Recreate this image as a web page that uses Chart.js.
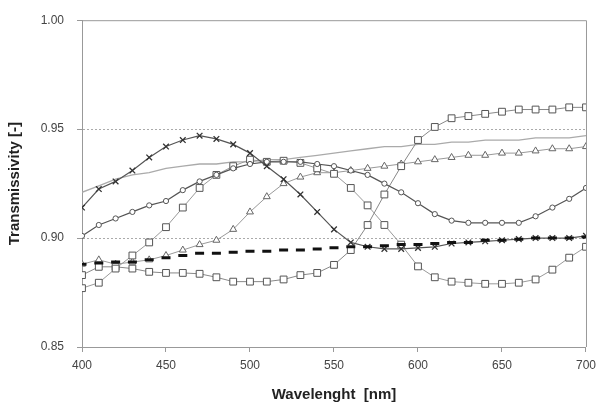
<!DOCTYPE html>
<html>
<head>
<meta charset="utf-8">
<script src="https://cdn.jsdelivr.net/npm/chart.js@4"></script>
<style>
html,body{margin:0;padding:0;background:#fff;}
#wrap{width:602px;height:409px;}
</style>
</head>
<body>
<div id="wrap"><canvas id="c" width="602" height="409"></canvas></div>
<script>
const wavelength = [400,410,420,430,440,450,460,470,480,490,500,510,520,530,540,550,560,570,580,590,600,610,620,630,640,650,660,670,680,690,700];

const crossSeries = [0.914,0.9225,0.926,0.931,0.937,0.942,0.945,0.947,0.9455,0.943,0.939,0.933,0.927,0.920,0.912,0.904,0.898,0.896,0.895,0.895,0.8955,0.896,0.8975,0.898,0.8985,0.899,0.8995,0.900,0.900,0.900,0.901];
const circleSeries = [0.901,0.906,0.909,0.912,0.915,0.917,0.922,0.926,0.929,0.932,0.934,0.935,0.935,0.935,0.934,0.933,0.931,0.929,0.925,0.921,0.916,0.911,0.908,0.907,0.907,0.907,0.907,0.910,0.914,0.918,0.923];
const squareSeriesA = [0.877,0.8795,0.886,0.892,0.898,0.905,0.914,0.923,0.929,0.933,0.936,0.935,0.9355,0.9345,0.932,0.9295,0.923,0.915,0.906,0.897,0.887,0.882,0.880,0.8795,0.879,0.879,0.8795,0.881,0.8855,0.891,0.896];
const squareSeriesB = [0.883,0.8868,0.8868,0.886,0.8845,0.884,0.884,0.8836,0.882,0.880,0.880,0.880,0.881,0.883,0.884,0.8877,0.8945,0.906,0.920,0.933,0.945,0.951,0.955,0.956,0.957,0.958,0.959,0.959,0.959,0.960,0.960];
const triangleSeries = [0.888,0.890,0.888,0.889,0.890,0.892,0.8945,0.897,0.899,0.904,0.912,0.919,0.925,0.928,0.930,0.930,0.931,0.932,0.933,0.934,0.935,0.936,0.937,0.938,0.938,0.939,0.939,0.940,0.941,0.941,0.942];
const plainSeries = [0.921,0.924,0.927,0.929,0.930,0.932,0.933,0.934,0.934,0.935,0.935,0.936,0.936,0.937,0.938,0.939,0.940,0.941,0.942,0.942,0.943,0.943,0.944,0.944,0.945,0.945,0.945,0.946,0.946,0.946,0.947];
const dashSeries = [0.888,0.8885,0.889,0.889,0.890,0.891,0.892,0.893,0.893,0.8935,0.894,0.894,0.8945,0.8945,0.895,0.8955,0.896,0.896,0.8965,0.897,0.897,0.8975,0.898,0.898,0.899,0.899,0.8995,0.900,0.900,0.900,0.9005];

const xTicks = [400,450,500,550,600,650,700];
const yTicks = [0.85,0.90,0.95,1.00];

function pts(arr){ return wavelength.map((w,i)=>({x:w,y:arr[i]})); }

const frame = {
  id:'frame',
  afterDraw(chart){
    const {ctx, chartArea:a} = chart;
    ctx.save();
    ctx.strokeStyle='#999';
    ctx.lineWidth=1;
    ctx.beginPath();
    ctx.moveTo(a.left, a.top+0.5);
    ctx.lineTo(a.right+0.5, a.top+0.5);
    ctx.lineTo(a.right+0.5, a.bottom);
    ctx.stroke();
    ctx.restore();
  }
};

new Chart(document.getElementById('c'), {
  type:'line',
  data:{
    datasets:[
      {label:'dash', data:pts(dashSeries), showLine:false, pointStyle:'line', pointRadius:4.5, pointBorderWidth:3, pointBorderColor:'#111', pointBackgroundColor:'#111'},
      {label:'cross', data:pts(crossSeries), borderColor:'#555', borderWidth:1.2, pointStyle:'crossRot', pointRadius:4, pointBorderWidth:1.3, pointBorderColor:'#333', pointBackgroundColor:'#333'},
      {label:'circle', data:pts(circleSeries), borderColor:'#555', borderWidth:1.2, pointStyle:'circle', pointRadius:2.6, pointBorderWidth:1, pointBorderColor:'#555', pointBackgroundColor:'#fff'},
      {label:'squareA', data:pts(squareSeriesA), borderColor:'#999', borderWidth:1, pointStyle:'rect', pointRadius:4.8, pointBorderWidth:1, pointBorderColor:'#555', pointBackgroundColor:'#fff'},
      {label:'squareB', data:pts(squareSeriesB), borderColor:'#888', borderWidth:1, pointStyle:'rect', pointRadius:4.8, pointBorderWidth:1, pointBorderColor:'#555', pointBackgroundColor:'#fff'},
      {label:'triangle', data:pts(triangleSeries), borderColor:'#999', borderWidth:1, pointStyle:'triangle', pointRadius:4, pointBorderWidth:1, pointBorderColor:'#666', pointBackgroundColor:'#fff'},
      {label:'plain', data:pts(plainSeries), borderColor:'#aaa', borderWidth:1.3, pointRadius:0}
    ]
  },
  options:{
    responsive:false,
    animation:false,
    events:[],
    layout:{padding:{top:18,right:15,left:0,bottom:0}},
    plugins:{legend:{display:false}, tooltip:{enabled:false}},
    elements:{line:{tension:0}},
    scales:{
      x:{
        type:'linear', min:400, max:700,
        afterBuildTicks(s){ s.ticks = xTicks.map(v=>({value:v})); },
        afterFit(s){ s.height = 62; },
        grid:{color:'rgba(0,0,0,0)', drawOnChartArea:false, tickLength:5, tickColor:'#999', tickWidth:1},
        border:{color:'#999', width:1},
        ticks:{color:'#444', padding:6, font:{family:'Liberation Sans, Arial', size:12}, maxRotation:0, callback:v=>String(v)},
        title:{display:true, text:'Wavelenght  [nm]', color:'#222', font:{family:'Liberation Sans, Arial', size:15, weight:'bold'}, padding:{top:0,bottom:5}}
      },
      y:{
        type:'linear', min:0.85, max:1.00,
        afterBuildTicks(s){ s.ticks = yTicks.map(v=>({value:v})); },
        afterFit(s){ s.width = 82; },
        grid:{color:(c)=> (c.tick && (Math.abs(c.tick.value-0.90)<1e-6 || Math.abs(c.tick.value-0.95)<1e-6)) ? '#aaa' : 'rgba(0,0,0,0)', tickLength:5, tickColor:'#999', tickWidth:1},
        border:{color:'#999', width:1, dash:[2,2]},
        ticks:{color:'#444', padding:13, font:{family:'Liberation Sans, Arial', size:12}, callback:v=>Number(v).toFixed(2)},
        title:{display:true, text:'Transmissivity [-]', color:'#222', font:{family:'Liberation Sans, Arial', size:15, weight:'bold'}, padding:{top:6,bottom:0}}
      }
    }
  },
  plugins:[frame]
});
</script>
</body>
</html>
